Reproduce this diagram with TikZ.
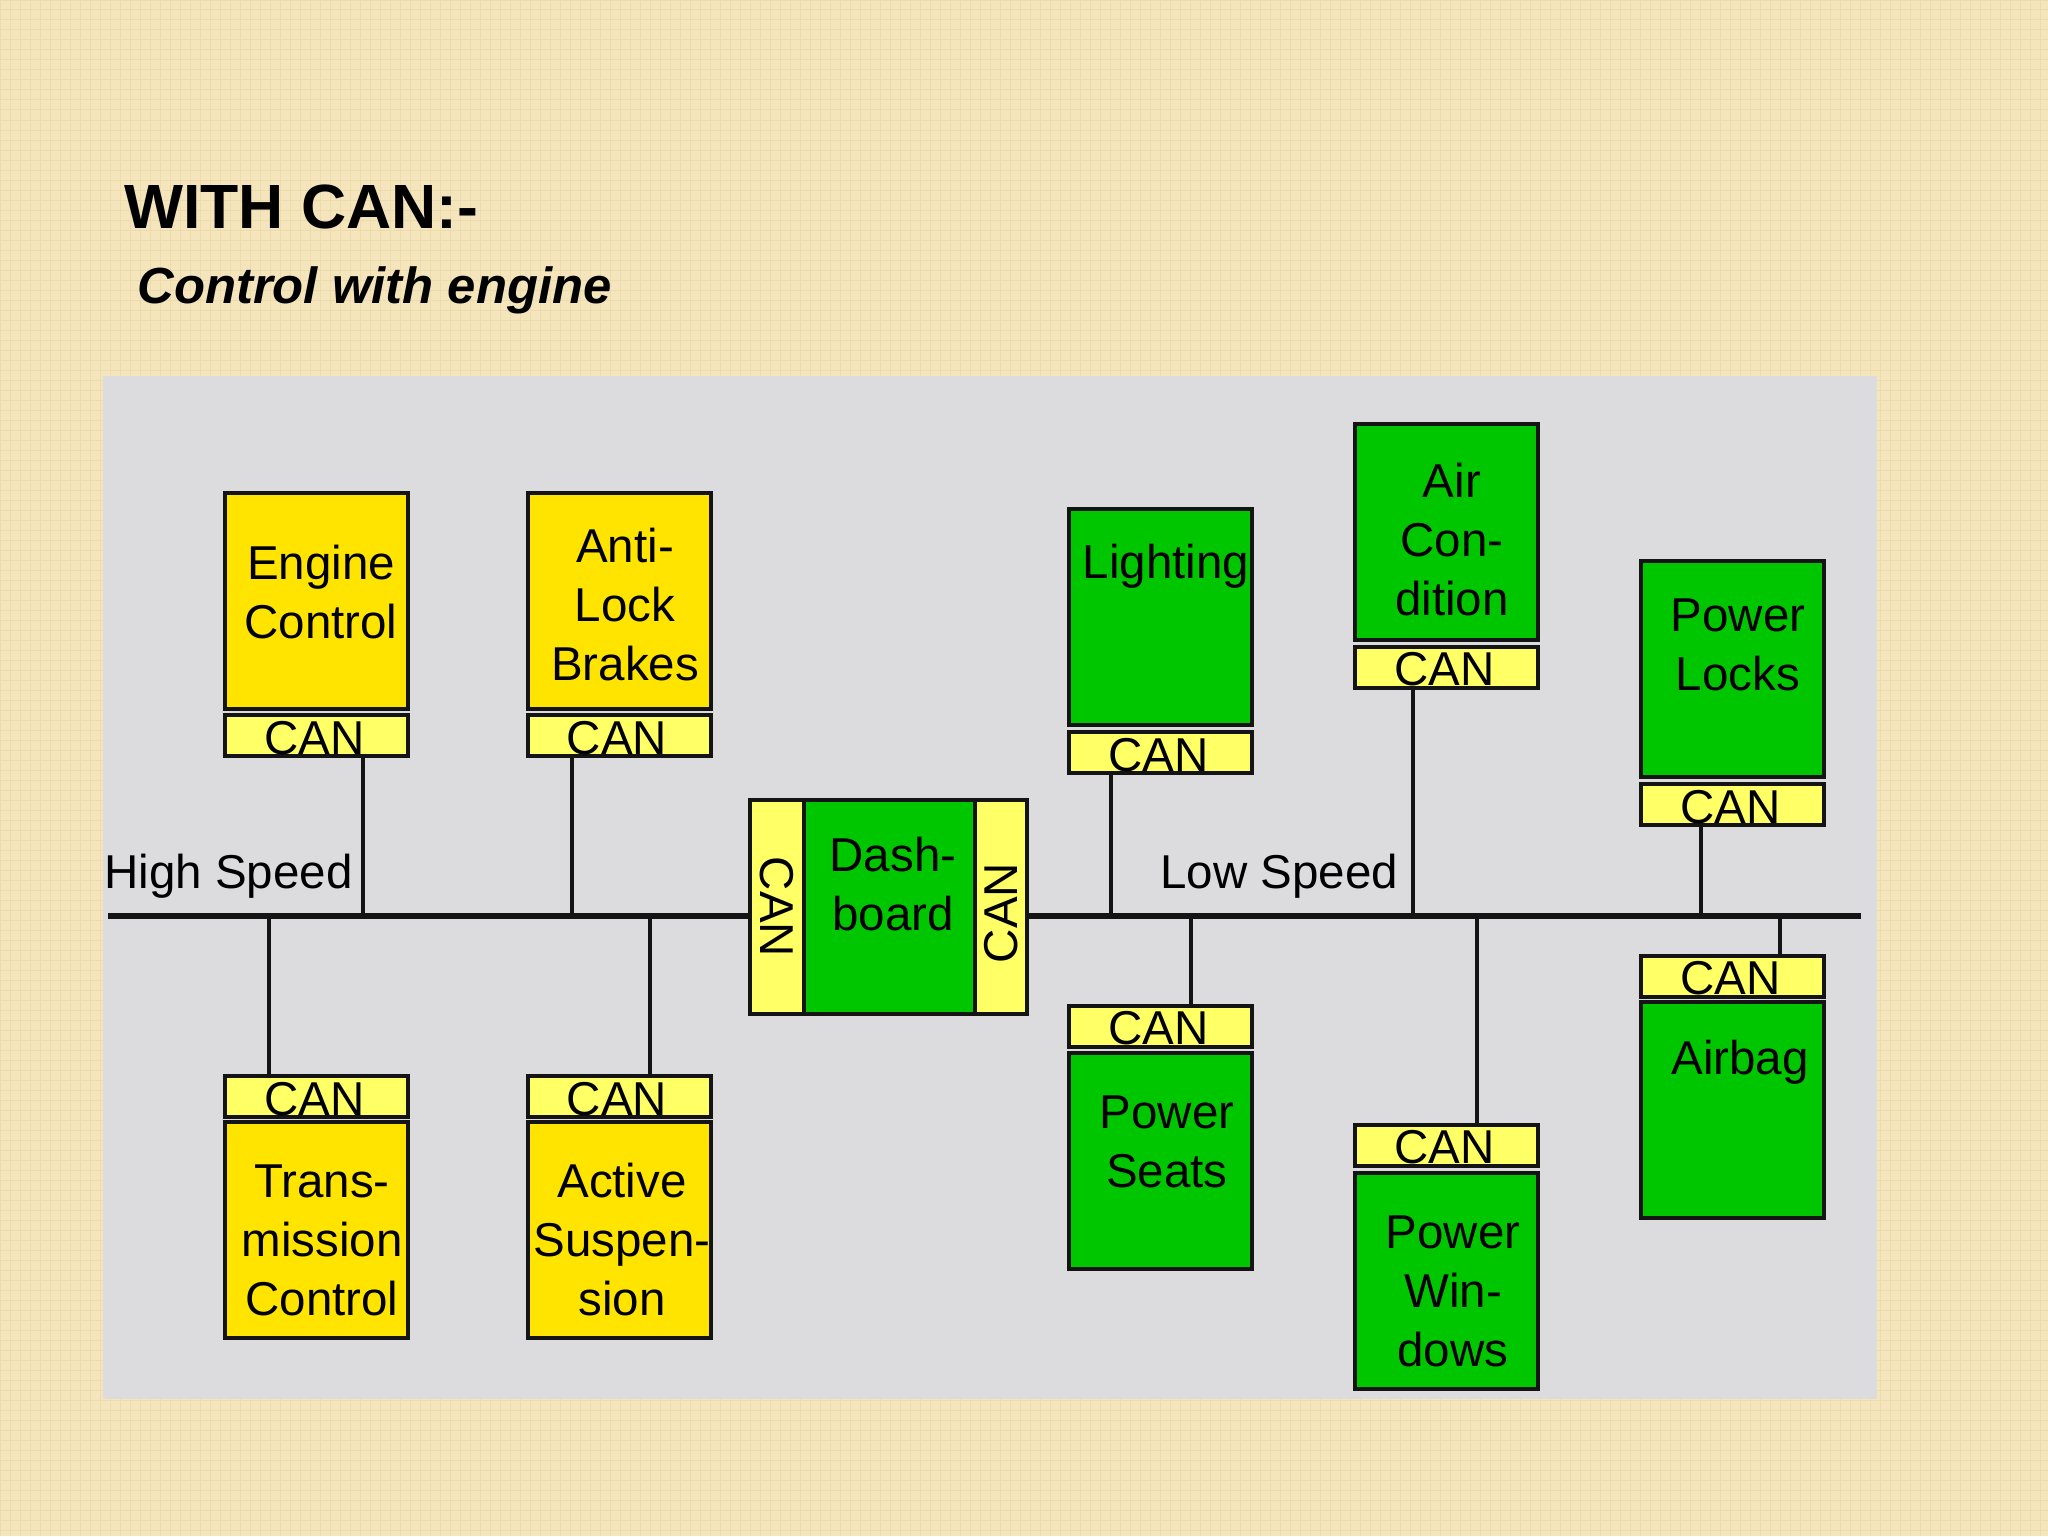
\documentclass[tikz,border=0pt]{standalone}
\usepackage{fontspec}
\setmainfont{Liberation Sans}
\definecolor{bgbeige}{RGB}{245,229,188}
\definecolor{bggrid}{RGB}{238,219,172}
\definecolor{panelgray}{RGB}{220,220,222}
\definecolor{mainyellow}{RGB}{255,228,0}
\definecolor{canyellow}{RGB}{255,255,102}
\definecolor{ecugreen}{RGB}{0,198,0}
\definecolor{edge}{RGB}{20,20,20}
\begin{document}
\begin{tikzpicture}[x=0.5pt,y=-0.5pt,
  box/.style={draw=edge, line width=2pt, inner sep=0pt, outer sep=0pt, minimum width=91.5pt, minimum height=108pt},
  ybox/.style={box, fill=mainyellow},
  gbox/.style={box, fill=ecugreen},
  canbox/.style={draw=edge, line width=2pt, inner sep=0pt, outer sep=0pt, fill=canyellow, minimum width=91.5pt, minimum height=20.5pt},
  lbl/.style={font=\fontsize{23.75pt}{29.5pt}\selectfont, align=center, inner sep=0pt, text=black},
  cantxt/.style={lbl, anchor=base},
  wire/.style={draw=edge, line width=2pt},
  bus/.style={draw=edge, line width=2.8pt}]
\useasboundingbox (0,0) rectangle (2048,1536);
\fill[bgbeige] (0,0) rectangle (2048,1536);
\draw[bggrid, line width=0.5pt, step=5pt] (0,0) grid (2048,1536);
\fill[panelgray] (103,376) rectangle (1877,1399);

% title
\node[anchor=base west, inner sep=0pt, font=\fontsize{31.25pt}{36pt}\selectfont\bfseries] (title) at (124,228) {WITH CAN:-};
\node[anchor=base west, inner sep=0pt, font=\fontsize{25.4pt}{30pt}\selectfont\bfseries\itshape] (subtitle) at (137,303) {Control with engine};

% bus coordinates
\coordinate (busL) at (108,916);
\coordinate (busR) at (1861,916);

% dashboard
\node[gbox, minimum width=138.5pt, minimum height=107pt] (dash) at (888.5,907) {};
\node[draw=edge, line width=2pt, fill=canyellow, inner sep=0pt, minimum width=27pt, minimum height=107pt] (dcanL) at (777,907) {};
\node[draw=edge, line width=2pt, fill=canyellow, inner sep=0pt, minimum width=26pt, minimum height=107pt] (dcanR) at (1001,907) {};
\node[lbl, rotate=-90] (dcanLt) at (777,907) {CAN};
\node[lbl, rotate=90] (dcanRt) at (1001,913) {CAN};
\node[lbl] (dasht) at (893,884) {Dash-\\board};

\draw[bus] (busL) -- (dash.west |- busL);
\draw[bus] (dash.east |- busR) -- (busR);

% high speed side
\node[ybox] (eng) at (316.5,601) {};
\node[canbox] (engcan) at (316.5,735.5) {};
\node[lbl] (engt) at (321,592) {Engine\\Control};
\node[cantxt] (engcant) at ([xshift=-1pt,yshift=1pt]engcan.south) {CAN};

\node[ybox] (abs) at (619,601) {};
\node[canbox] (abscan) at (619,735.5) {};
\node[lbl] (abst) at (625,605) {Anti-\\Lock\\Brakes};
\node[cantxt] (abscant) at ([xshift=-1pt,yshift=1pt]abscan.south) {CAN};

\node[canbox] (tracan) at (316.5,1096.5) {};
\node[ybox] (tra) at (316.5,1230) {};
\node[lbl] (trat) at (322,1240) {Trans-\\mission\\Control};
\node[cantxt] (tracant) at ([xshift=-1pt,yshift=1pt]tracan.south) {CAN};

\node[canbox] (suscan) at (619,1096.5) {};
\node[ybox] (sus) at (619,1230) {};
\node[lbl] (sust) at (622,1240) {Active\\Suspen-\\sion};
\node[cantxt] (suscant) at ([xshift=-1pt,yshift=1pt]suscan.south) {CAN};

% low speed side
\node[gbox] (light) at (1160.5,617) {};
\node[canbox] (lightcan) at (1160.5,752.5) {};
\node[lbl] (lightt) at (1166,566) {Lighting};
\node[cantxt] (lightcant) at ([xshift=-1pt,yshift=1pt]lightcan.south) {CAN};

\node[gbox] (air) at (1446.5,531.5) {};
\node[canbox] (aircan) at (1446.5,667) {};
\node[lbl] (airt) at (1452,540) {Air\\Con-\\dition};
\node[cantxt] (aircant) at ([xshift=-1pt,yshift=1pt]aircan.south) {CAN};

\node[gbox] (locks) at (1732.5,668.5) {};
\node[canbox] (lockscan) at (1732.5,804.5) {};
\node[lbl] (lockst) at (1738,645) {Power\\Locks};
\node[cantxt] (lockscant) at ([xshift=-1pt,yshift=1pt]lockscan.south) {CAN};

\node[canbox] (seatscan) at (1160.5,1026) {};
\node[gbox] (seats) at (1160.5,1161) {};
\node[lbl] (seatst) at (1167,1142) {Power\\Seats};
\node[cantxt] (seatscant) at ([xshift=-1pt,yshift=1pt]seatscan.south) {CAN};

\node[canbox] (wincan) at (1446.5,1145) {};
\node[gbox] (win) at (1446.5,1280.5) {};
\node[lbl] (wint) at (1453,1291) {Power\\Win-\\dows};
\node[cantxt] (wincant) at ([xshift=-1pt,yshift=1pt]wincan.south) {CAN};

\node[canbox] (bagcan) at (1732.5,976) {};
\node[gbox] (bag) at (1732.5,1110) {};
\node[lbl] (bagt) at (1740,1062) {Airbag};
\node[cantxt] (bagcant) at ([xshift=-1pt,yshift=1pt]bagcan.south) {CAN};

% bus labels
\node[lbl, anchor=base west] (hs) at (104,888) {High Speed};
\node[lbl, anchor=base west] (ls) at (1160,888) {Low Speed};

% taps on the bus
\coordinate (tEng) at (363,916);
\coordinate (tAbs) at (572,916);
\coordinate (tTra) at (269,916);
\coordinate (tSus) at (650,916);
\coordinate (tLight) at (1111,916);
\coordinate (tAir) at (1413,916);
\coordinate (tLocks) at (1701,916);
\coordinate (tSeats) at (1191,916);
\coordinate (tWin) at (1477,916);
\coordinate (tBag) at (1780,916);

\draw[wire] (engcan.south -| tEng) -- (tEng);
\draw[wire] (abscan.south -| tAbs) -- (tAbs);
\draw[wire] (tTra) -- (tracan.north -| tTra);
\draw[wire] (tSus) -- (suscan.north -| tSus);
\draw[wire] (lightcan.south -| tLight) -- (tLight);
\draw[wire] (aircan.south -| tAir) -- (tAir);
\draw[wire] (lockscan.south -| tLocks) -- (tLocks);
\draw[wire] (tSeats) -- (seatscan.north -| tSeats);
\draw[wire] (tWin) -- (wincan.north -| tWin);
\draw[wire] (tBag) -- (bagcan.north -| tBag);
\end{tikzpicture}
\end{document}
